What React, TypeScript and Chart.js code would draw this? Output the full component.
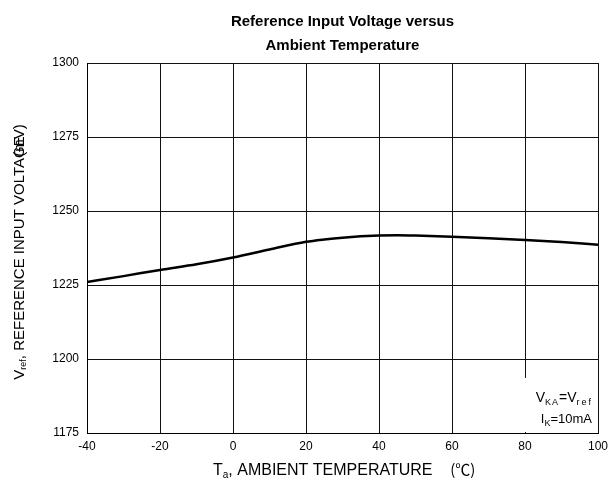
import React, { useEffect, useRef } from "react";
import { Chart, registerables } from "chart.js";
Chart.register(...registerables);

const temperatures = [-40, -30, -20, -10, 0, 10, 20, 25, 30, 40, 45, 50, 60, 70, 80, 90, 100];
const vrefValues = [1226, 1228, 1230.1, 1232, 1234.3, 1237, 1239.6, 1240.4, 1241, 1241.7, 1241.8, 1241.7, 1241.3, 1240.8, 1240.2, 1239.5, 1238.6];
const xMin = -40;
const xMax = 100;
const xStep = 20;
const yMin = 1175;
const yMax = 1300;
const yStep = 25;
const titleLines = ["Reference Input Voltage versus", "Ambient Temperature"];

const FONT = '"Liberation Sans", Arial, sans-serif';

type Run = { text: string; size: number; bold?: boolean; dy?: number; family?: string; spacing?: number };

function setFont(ctx: CanvasRenderingContext2D, r: Run) {
  ctx.font = `${r.bold ? "bold " : ""}${r.size}px ${r.family || FONT}`;
  (ctx as any).letterSpacing = `${r.spacing || 0}px`;
}
function runsWidth(ctx: CanvasRenderingContext2D, runs: Run[]) {
  let w = 0;
  for (const r of runs) {
    setFont(ctx, r);
    w += ctx.measureText(r.text).width;
  }
  (ctx as any).letterSpacing = "0px";
  return w;
}
function drawRuns(ctx: CanvasRenderingContext2D, runs: Run[], x: number, y: number) {
  let cx = x;
  for (const r of runs) {
    setFont(ctx, r);
    ctx.fillText(r.text, cx, y + (r.dy || 0));
    cx += ctx.measureText(r.text).width;
  }
  (ctx as any).letterSpacing = "0px";
  return cx;
}

const textPlugin = {
  id: "textPlugin",
  beforeDatasetsDraw(chart: any) {
    const ctx: CanvasRenderingContext2D = chart.ctx;
    const a = chart.chartArea;
    ctx.save();
    ctx.fillStyle = "#ffffff";
    const left = a.right - 93;
    const top = a.bottom - 55;
    ctx.fillRect(left, top, a.right - 1 - left, a.bottom - 1 - top);
    ctx.restore();
  },
  afterDraw(chart: any) {
    const ctx: CanvasRenderingContext2D = chart.ctx;
    const a = chart.chartArea;
    const cx = (a.left + a.right) / 2;
    ctx.save();
    ctx.fillStyle = "#000";
    ctx.textBaseline = "alphabetic";
    ctx.textAlign = "left";

    // title
    ctx.font = `bold 15px ${FONT}`;
    ctx.textAlign = "center";
    ctx.fillText(titleLines[0], cx, 26);
    ctx.fillText(titleLines[1], cx, 50);
    ctx.textAlign = "left";

    // annotation
    const ann1: Run[] = [
      { text: "V", size: 14 },
      { text: "KA", size: 9, dy: 3, spacing: 1 },
      { text: "=V", size: 14 },
      { text: "ref", size: 9, dy: 3, spacing: 2 },
    ];
    const ann2: Run[] = [
      { text: "I", size: 13 },
      { text: "K", size: 9, dy: 3 },
      { text: "=10mA", size: 13 },
    ];
    drawRuns(ctx, ann1, a.right - 5 - runsWidth(ctx, ann1), 402);
    drawRuns(ctx, ann2, a.right - 6 - runsWidth(ctx, ann2), 423);

    // x title
    const xt: Run[] = [
      { text: "T", size: 16 },
      { text: "a", size: 10, dy: 3 },
      { text: ", AMBIENT TEMPERATURE    ", size: 16 },
      { text: "(℃)", size: 15, family: '"Noto Sans CJK SC", "DejaVu Sans", sans-serif' },
    ];
    const xw = runsWidth(ctx, xt);
    drawRuns(ctx, xt, 213, 475);

    // y title (rotated)
    const yt: Run[] = [
      { text: "V", size: 15 },
      { text: "ref", size: 9, dy: 2 },
      { text: ", REFERENCE INPUT VOLTAGE", size: 15 },
    ];
    const unit: Run[] = [{ text: "(mV)", size: 15 }];
    const mainW = runsWidth(ctx, yt);
    const totalW = mainW + 12;
    const cy = 252;
    ctx.translate(24, cy);
    ctx.rotate(-Math.PI / 2);
    const sx = -totalW / 2;
    drawRuns(ctx, yt, sx, 0);
    const uw = runsWidth(ctx, unit);
    drawRuns(ctx, unit, sx + totalW - uw, 0);
    ctx.restore();
  },
};

export default function App() {
  const ref = useRef<HTMLCanvasElement | null>(null);
  useEffect(() => {
    if (!ref.current) return;
    const points = temperatures.map((t, i) => ({ x: t, y: vrefValues[i] }));
    const chart = new Chart(ref.current, {
      type: "line",
      data: {
        datasets: [
          {
            data: points,
            borderColor: "#000",
            borderWidth: 2.5,
            pointRadius: 0,
            tension: 0.4,
            cubicInterpolationMode: "monotone",
            fill: false,
          },
        ],
      },
      options: {
        animation: false,
        responsive: false,
        devicePixelRatio: 1,
        layout: { padding: { top: 63, right: 18, left: 0, bottom: 0 } },
        plugins: { legend: { display: false }, title: { display: false }, tooltip: { enabled: false } },
        scales: {
          x: {
            type: "linear",
            min: xMin,
            max: xMax,
            ticks: { stepSize: xStep, color: "#000", font: { family: FONT, size: 12 }, padding: 6, maxRotation: 0, callback: (v: any) => String(v) },
            grid: { color: "#111", lineWidth: 1, drawTicks: false },
            border: { color: "#000", width: 1 },
            afterFit: (s: any) => { s.height = 52; },
          },
          y: {
            type: "linear",
            min: yMin,
            max: yMax,
            ticks: { stepSize: yStep, color: "#000", font: { family: FONT, size: 12 }, padding: 8, callback: (v: any) => String(v) },
            grid: { color: "#111", lineWidth: 1, drawTicks: false },
            border: { color: "#000", width: 1 },
            afterFit: (s: any) => { s.width = 87; },
          },
        },
      },
      plugins: [textPlugin],
    } as any);
    return () => chart.destroy();
  }, []);
  return (
    <div style={{ position: "fixed", left: 0, top: 0, width: 616, height: 485, background: "#fff" }}>
      <canvas ref={ref} width={616} height={485} style={{ width: 616, height: 485 }} />
    </div>
  );
}
